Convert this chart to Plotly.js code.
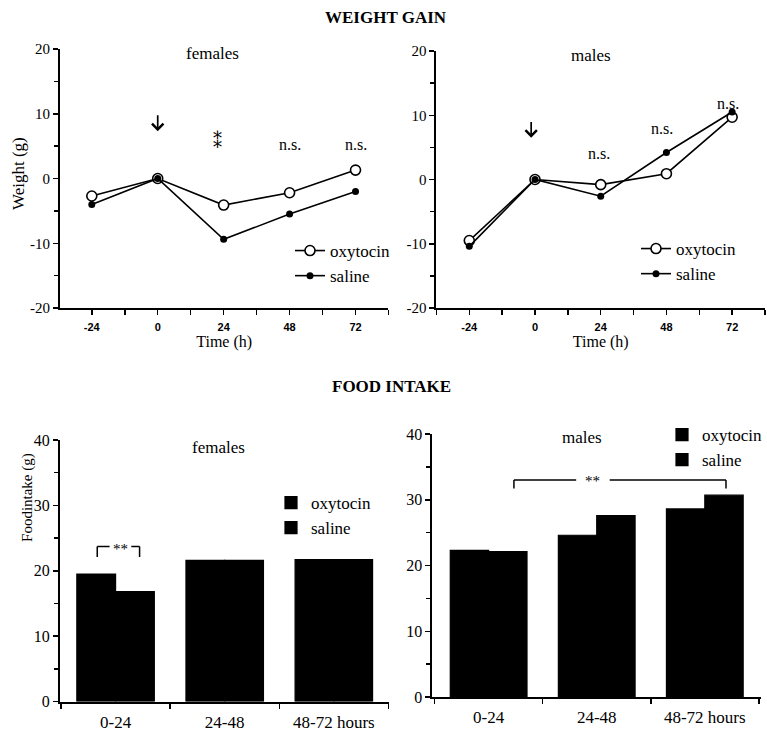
<!DOCTYPE html>
<html><head><meta charset="utf-8">
<script src="https://cdn.plot.ly/plotly-3.0.1.min.js"></script>
<style>html,body{margin:0;padding:0;background:#fff;} #chart{width:767px;height:731px;}</style>
</head><body><div id="chart"></div>
<script>
// ---- data ----
const hours = [-24, 0, 24, 48, 72];
const femaleWeightOxytocin = [-2.7, 0, -4.1, -2.2, 1.3];
const femaleWeightSaline   = [-4.0, 0, -9.4, -5.5, -2.0];
const maleWeightOxytocin   = [-9.5, 0, -0.8, 0.9, 9.7];
const maleWeightSaline     = [-10.4, 0, -2.6, 4.2, 10.5];
const weightTicks = [-20, -10, 0, 10, 20];
const foodTicks = [0, 10, 20, 30, 40];
const periods = ['0-24', '24-48', '48-72 hours'];
const femaleFoodOxytocin = [19.5, 21.6, 21.7];
const femaleFoodSaline   = [16.8, 21.6, 21.7];
const maleFoodOxytocin   = [22.3, 24.6, 28.6];
const maleFoodSaline     = [22.1, 27.6, 30.7];

// ---- helpers ----
const W = 767, H = 731;
const px = v => v / W, py = v => 1 - v / H;
const SERIF = '"Liberation Serif", "Times New Roman", serif';
const SANS = '"Liberation Sans", Arial, sans-serif';
const BLACK = '#000';

function lineTrace(x, y, name, open, xa, ya, leg) {
  return {
    x: x, y: y, xaxis: xa, yaxis: ya, name: name, legend: leg,
    type: 'scatter', mode: 'lines+markers', cliponaxis: false,
    line: {color: BLACK, width: 1.6},
    marker: open ? {symbol: 'circle', size: 10, color: '#fff', line: {color: BLACK, width: 1.6}}
                 : {symbol: 'circle', size: 7, color: BLACK, line: {color: BLACK, width: 0}}
  };
}
function barTrace(x, y, name, xa, ya, leg) {
  return {x: x, y: y, xaxis: xa, yaxis: ya, name: name, legend: leg, type: 'bar',
          marker: {color: BLACK, line: {color: BLACK, width: 1.2}}};
}

const traces = [
  lineTrace(hours, femaleWeightOxytocin, 'oxytocin', true, 'x', 'y', 'legend'),
  lineTrace(hours, femaleWeightSaline, 'saline', false, 'x', 'y', 'legend'),
  lineTrace(hours, maleWeightOxytocin, 'oxytocin', true, 'x2', 'y2', 'legend2'),
  lineTrace(hours, maleWeightSaline, 'saline', false, 'x2', 'y2', 'legend2'),
  barTrace(periods, femaleFoodOxytocin, 'oxytocin', 'x3', 'y3', 'legend3'),
  barTrace(periods, femaleFoodSaline, 'saline', 'x3', 'y3', 'legend3'),
  barTrace(periods, maleFoodOxytocin, 'oxytocin', 'x4', 'y4', 'legend4'),
  barTrace(periods, maleFoodSaline, 'saline', 'x4', 'y4', 'legend4')
];

const axBase = {showline: true, linecolor: BLACK, linewidth: 2, ticks: 'outside', tickcolor: BLACK,
  tickwidth: 1.5, ticklen: 5, showgrid: false, zeroline: false, fixedrange: true};
function topX(domain, range, anchor) {
  return Object.assign({}, axBase, {domain: domain, range: range, anchor: anchor,
    tickmode: 'array', tickvals: hours, ticktext: hours.map(String),
    tickfont: {family: SANS, size: 11, weight: 'bold', color: BLACK}, ticklabelstandoff: 3,
    minor: {tickmode: 'linear', tick0: 0, dtick: 12, ticks: 'outside', ticklen: 5, tickwidth: 1.5, tickcolor: BLACK},
    title: {text: 'Time (h)', font: {family: SERIF, size: 16, color: BLACK}, standoff: 2}});
}
function topY(domain, anchor) {
  return Object.assign({}, axBase, {domain: domain, range: [-20, 20], anchor: anchor,
    tickmode: 'array', tickvals: weightTicks, ticktext: weightTicks.map(String),
    tickfont: {family: SERIF, size: 15, color: BLACK},
    minor: {tickmode: 'linear', tick0: 0, dtick: 5, ticks: 'outside', ticklen: 4, tickwidth: 1.5, tickcolor: BLACK}});
}
function botX(domain, range, anchor) {
  return Object.assign({}, axBase, {domain: domain, range: range, anchor: anchor, type: 'category',
    tickson: 'boundaries', tickfont: {family: SERIF, size: 17, color: BLACK}, ticklabelstandoff: 4});
}
function botY(domain, anchor) {
  return Object.assign({}, axBase, {domain: domain, range: [0, 40], anchor: anchor,
    tickmode: 'array', tickvals: foodTicks, ticktext: foodTicks.map(String),
    tickfont: {family: SERIF, size: 16, color: BLACK},
    minor: {tickmode: 'linear', tick0: 0, dtick: 5, ticks: 'outside', ticklen: 4, tickwidth: 1.5, tickcolor: BLACK}});
}
const legBase = {xanchor: 'left', yanchor: 'top', bgcolor: 'rgba(0,0,0,0)', borderwidth: 0,
  font: {family: SERIF, size: 17, color: BLACK}, tracegroupgap: 0};

function ann(xref, yref, x, y, text, size, extra) {
  return Object.assign({xref: xref, yref: yref, x: x, y: y, text: text, showarrow: false,
    font: {family: SERIF, size: size, color: BLACK}, xanchor: 'center', yanchor: 'middle'}, extra || {});
}
function arrow(xref, yref, x, yTip, yTail) {
  return {xref: xref, yref: yref, axref: xref, ayref: yref, x: x, y: yTip, ax: x, ay: yTail,
    text: '', showarrow: true, arrowhead: 4, arrowsize: 1.3, arrowwidth: 1.7, arrowcolor: BLACK, standoff: 0};
}

const annotations = [
  ann('paper', 'paper', px(387), py(17), '<b>WEIGHT GAIN</b>', 17),
  ann('paper', 'paper', px(392), py(386), '<b>FOOD INTAKE</b>', 17),
  ann('paper', 'paper', px(18), py(173), 'Weight (g)', 17, {textangle: -90}),
  ann('paper', 'paper', px(27), py(497), 'Foodintake (g)', 15, {textangle: -90}),
  // females weight
  ann('x', 'y', 19.8, 19.3, 'females', 17),
  arrow('x', 'y', 0, 7.3, 10.0),
  ann('x', 'y', 21.8, 5.8, '⁑', 18, {font: {family: '"DejaVu Serif", "DejaVu Sans", serif', size: 18, color: BLACK}}),
  ann('x', 'y', 48, 5.3, 'n.s.', 16),
  ann('x', 'y', 72, 5.3, 'n.s.', 16),
  // males weight
  ann('x2', 'y2', 20.6, 19.3, 'males', 17),
  arrow('x2', 'y2', -1.4, 6.5, 9.2),
  ann('x2', 'y2', 23.3, 4.0, 'n.s.', 16),
  ann('x2', 'y2', 46.4, 7.9, 'n.s.', 16),
  ann('x2', 'y2', 70.5, 11.8, 'n.s.', 16),
  // food
  ann('x3', 'y3', 0.945, 38.8, 'females', 17),
  ann('x3', 'y3', 0.045, 23.4, '**', 15),
  ann('x4', 'y4', 0.86, 39.4, 'males', 17),
  ann('x4', 'y4', 0.965, 32.8, '**', 15)
];

function seg(xref, yref, x0, y0, x1, y1) {
  return {type: 'line', xref: xref, yref: yref, x0: x0, y0: y0, x1: x1, y1: y1,
          line: {color: BLACK, width: 1.5}};
}
const shapes = [
  seg('x3', 'y3', -0.168, 23.7, -0.055, 23.7),
  seg('x3', 'y3', 0.144, 23.7, 0.22, 23.7),
  seg('x3', 'y3', -0.168, 23.7, -0.168, 22.1),
  seg('x3', 'y3', 0.22, 23.7, 0.22, 22.1),
  seg('x4', 'y4', 0.234, 33.0, 0.81, 33.0),
  seg('x4', 'y4', 1.12, 33.0, 2.196, 33.0),
  seg('x4', 'y4', 0.234, 33.0, 0.234, 31.7),
  seg('x4', 'y4', 2.196, 33.0, 2.196, 31.7)
];

const layout = {
  width: W, height: H, margin: {l: 0, r: 0, t: 0, b: 0},
  paper_bgcolor: '#fff', plot_bgcolor: 'rgba(0,0,0,0)',
  font: {family: SERIF, size: 15, color: BLACK},
  showlegend: true, barmode: 'group', bargap: 0.29, bargroupgap: 0,
  xaxis: topX([px(60), px(389)], [-35.6, 84], 'y'),
  yaxis: topY([py(308), py(49)], 'x'),
  xaxis2: topX([px(437), px(766)], [-36, 84], 'y2'),
  yaxis2: topY([py(308), py(51)], 'x2'),
  xaxis3: botX([px(60), px(390)], [-0.51, 2.51], 'y3'),
  yaxis3: botY([py(701.5), py(440)], 'x3'),
  xaxis4: botX([px(433), px(762)], [-0.52, 2.52], 'y4'),
  yaxis4: botY([py(697), py(434)], 'x4'),
  legend: Object.assign({}, legBase, {x: px(290), y: py(233)}),
  legend2: Object.assign({}, legBase, {x: px(636), y: py(231)}),
  legend3: Object.assign({}, legBase, {x: px(271), y: py(485)}),
  legend4: Object.assign({}, legBase, {x: px(663), y: py(417)}),
  annotations: annotations, shapes: shapes
};

Plotly.newPlot('chart', traces, layout, {displayModeBar: false, staticPlot: true});
</script>
</body></html>
